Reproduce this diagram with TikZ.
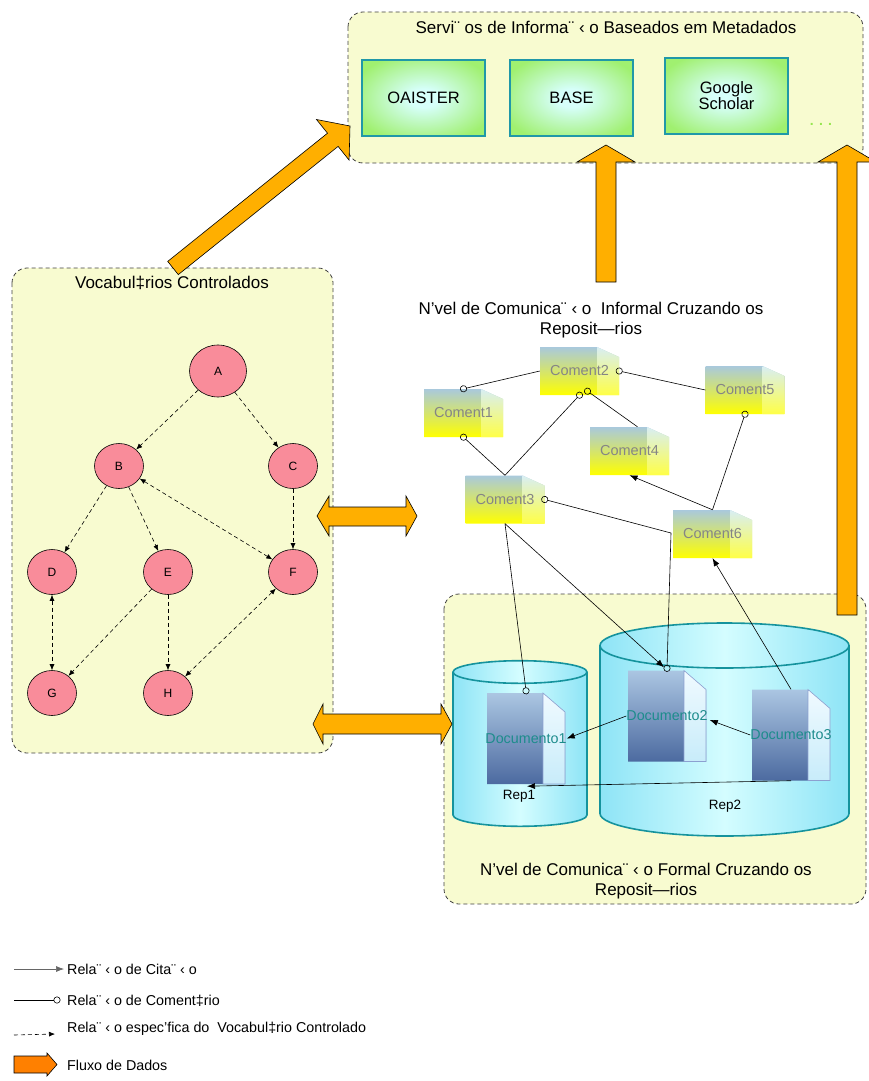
\documentclass[tikz,border=0pt]{standalone}
\usepackage{fontspec}
\setmainfont{Liberation Sans}
\usetikzlibrary{shapes.geometric,arrows.meta,calc}
\definecolor{boxyellow}{RGB}{248,251,208}
\definecolor{vpink}{RGB}{249,140,154}
\definecolor{svcIn}{RGB}{214,255,250}
\definecolor{svcOut}{RGB}{160,240,112}
\definecolor{svcLine}{RGB}{32,152,168}
\definecolor{cylEdge}{RGB}{142,228,246}
\definecolor{cylMid}{RGB}{212,253,255}
\definecolor{cylLine}{RGB}{21,147,157}
\definecolor{flowor}{RGB}{255,175,0}
\definecolor{legor}{RGB}{255,128,0}
\definecolor{doctxt}{RGB}{29,140,140}
\definecolor{cmttxt}{RGB}{133,133,133}
\definecolor{cmtTop}{RGB}{169,201,220}
\definecolor{cmtMid}{RGB}{230,234,90}
\definecolor{cmtBot}{RGB}{255,255,0}
\definecolor{cmtTopB}{RGB}{216,238,244}
\definecolor{cmtBotB}{RGB}{255,255,70}
\definecolor{docTop}{RGB}{171,198,226}
\definecolor{docMid}{RGB}{127,156,200}
\definecolor{docBot}{RGB}{76,106,160}
\definecolor{docTopB}{RGB}{240,250,255}
\definecolor{docBotB}{RGB}{200,236,250}
\definecolor{docLine}{RGB}{140,160,208}
\definecolor{dotgreen}{RGB}{150,230,80}
\pgfdeclareradialshading{svcshade}{\pgfpoint{0bp}{0bp}}{color(0bp)=(svcIn); color(6bp)=(svcIn); color(30bp)=(svcOut); color(100bp)=(svcOut)}
\tikzset{
  grp/.style={draw=black!75, dash pattern=on 4pt off 3pt, fill=boxyellow, rounded corners=15pt, line width=0.8pt},
  ttl/.style={font=\fontsize{17}{19.5}\selectfont, align=center, inner sep=1pt},
  svc/.style={rectangle, draw=svcLine, line width=1.3pt, shading=svcshade,
    minimum width=123pt, minimum height=76pt, inner sep=0pt, align=center, font=\fontsize{16.5}{18}\selectfont},
  vnode/.style={ellipse, draw=black, line width=0.6pt, fill=vpink, minimum width=49pt, minimum height=45pt,
    inner sep=0pt, font=\fontsize{12}{14}\selectfont},
  vrel/.style={dash pattern=on 4pt off 3pt, line width=0.6pt, -{Latex[length=6pt,width=5pt]}},
  vrelb/.style={dash pattern=on 4pt off 3pt, line width=0.6pt, {Latex[length=6pt,width=5pt]}-{Latex[length=6pt,width=5pt]}},
  cite/.style={line width=0.6pt, -{Latex[length=8pt,width=6pt]}},
  cmt/.style={line width=0.6pt, -{Circle[open,length=7pt,width=7pt]}, shorten >=-3.5pt},
  cmtb/.style={line width=0.6pt, {Circle[open,length=7pt,width=7pt]}-{Circle[open,length=7pt,width=7pt]}, shorten >=-3.5pt, shorten <=-3.5pt},
  flow/.style={draw=black, fill=flowor, line width=0.6pt, line join=miter},
  cnote/.style={rectangle, minimum width=79pt, minimum height=48pt, inner sep=0pt, text=cmttxt, font=\fontsize{14.5}{16}\selectfont},
  dnote/.style={rectangle, minimum width=78pt, minimum height=91pt, inner sep=0pt, text=doctxt, font=\fontsize{14.3}{16}\selectfont},
  lgd/.style={anchor=west, inner sep=0pt, font=\fontsize{14.3}{16}\selectfont},
  cyl/.style={left color=cylEdge, right color=cylEdge, middle color=cylMid},
  cylb/.style={draw=cylLine, line width=1.6pt},
}
\newcommand\mkcomment[4]{%
  \begin{scope}[shift={(#2,#3)}]
    \shade[top color=cmtTop, middle color=cmtMid, bottom color=cmtBot] (-39.5,-24) -- (17.5,-24) -- (39.5,-14) -- (39.5,24) -- (-39.5,24) -- cycle;
    \shade[top color=cmtTopB, bottom color=cmtBotB] (17.5,-24) -- (39.5,-14) -- (39.5,24) -- (17.5,24) -- cycle;
  \end{scope}
  \node[cnote] (#1) at (#2,#3) {#4};
}
\newcommand\mkdoc[4]{%
  \begin{scope}[shift={(#2,#3)}]
    \shade[top color=docTop, middle color=docMid, bottom color=docBot] (-39,-45.5) -- (17,-45.5) -- (39,-26.5) -- (39,45.5) -- (-39,45.5) -- cycle;
    \shade[top color=docTopB, bottom color=docBotB, draw=docLine, line width=0.6pt] (17,-45.5) -- (39,-26.5) -- (39,45.5) -- (17,45.5) -- cycle;
  \end{scope}
  \node[dnote] (#1) at (#2,#3) {#4};
}
\begin{document}
\begin{tikzpicture}[x=1pt,y=-1pt]
\useasboundingbox (0,0) rectangle (868,1081);

% group boxes
\draw[grp] (348,12) rectangle (863,163);
\draw[grp] (12,268) rectangle (333,753);
\draw[grp] (444,594) rectangle (866,904);

% titles
\node[ttl] (tsvc) at (606,27) {Servi¨ os de Informa¨ ‹ o Baseados em Metadados};
\node[ttl] (tvoc) at (172,283) {Vocabul‡rios Controlados};
\node[ttl] (tinf) at (591,320) {N’vel de Comunica¨ ‹ o \ Informal Cruzando os\\Reposit—rios};
\node[ttl] (tfor) at (646,881) {N’vel de Comunica¨ ‹ o Formal Cruzando os\\Reposit—rios};

% services
\node[svc] (oai) at (423.5,98) {OAISTER};
\node[svc] (base) at (571.5,98) {BASE};
\node[svc] (gs) at (726.5,96) {Google\\[-2pt]Scholar};
\node[text=dotgreen, font=\bfseries\fontsize{14}{16}\selectfont] (dots) at (821,124) {. . .};

% vocabulary graph
\node[vnode, minimum width=57pt, minimum height=52pt] (A) at (218,371) {A};
\node[vnode] (B) at (119,466) {B};
\node[vnode] (C) at (293,466) {C};
\node[vnode] (D) at (52,572) {D};
\node[vnode] (E) at (168,572) {E};
\node[vnode] (F) at (293,572) {F};
\node[vnode] (G) at (52,693) {G};
\node[vnode] (H) at (168,693) {H};
\draw[vrel] (A) -- (B);
\draw[vrel] (A) -- (C);
\draw[vrel] (B) -- (D);
\draw[vrel] (B) -- (E);
\draw[vrelb] (B) -- (F);
\draw[vrel] (C) -- (F);
\draw[vrelb] (D) -- (G);
\draw[vrel] (E) -- (G);
\draw[vrel] (E) -- (H);
\draw[vrelb] (F) -- (H);

% repositories
\shade[cyl] (453,672) -- (453,815) arc[start angle=180, end angle=360, x radius=67pt, y radius=11.3pt] -- (587,672) -- cycle;
\draw[cylb] (453,672) -- (453,815) arc[start angle=180, end angle=360, x radius=67pt, y radius=11.3pt] -- (587,672);
\shade[cyl] (520,672) ellipse[x radius=67pt, y radius=11.3pt];
\draw[cylb] (520,672) ellipse[x radius=67pt, y radius=11.3pt];
\shade[cyl] (600,645.5) -- (600,813.5) arc[start angle=180, end angle=360, x radius=124.5pt, y radius=22.5pt] -- (849,645.5) -- cycle;
\draw[cylb] (600,645.5) -- (600,813.5) arc[start angle=180, end angle=360, x radius=124.5pt, y radius=22.5pt] -- (849,645.5);
\shade[cyl] (724.5,645.5) ellipse[x radius=124.5pt, y radius=22.5pt];
\draw[cylb] (724.5,645.5) ellipse[x radius=124.5pt, y radius=22.5pt];
\node[font=\fontsize{13.5}{15}\selectfont] (rep1) at (519,796) {Rep1};
\node[font=\fontsize{13.5}{15}\selectfont] (rep2) at (725,806) {Rep2};

% documents
\mkdoc{d1}{526}{738.5}{Documento1}
\mkdoc{d2}{667}{716}{Documento2}
\mkdoc{d3}{791}{735}{Documento3}

% comments
\mkcomment{c1}{463.5}{413}{Coment1}
\mkcomment{c2}{579.5}{371}{Coment2}
\mkcomment{c5}{745}{390}{Coment5}
\mkcomment{c4}{629.5}{451}{Coment4}
\mkcomment{c3}{505}{499.5}{Coment3}
\mkcomment{c6}{712.5}{534}{Coment6}

% comment relations
\draw[cmt] (c2.west) -- (c1.north);
\draw[cmt] (c5.west) -- (c2.east);
\draw[cmt] ($(c4.north)+(8,0)$) -- ($(c2.south)+(8,-4)$);
\draw[cmt] (c3.north) -- (c2.south);
\draw[cmt] (c3.north) -- (c1.south);
\draw[cmt] (c6.north) -- (c5.south);
\draw[cite] (c6.north) -- (c4.south);
\draw[cmt] (c3.south) -- ($(d1.north)+(0,-2)$);
\draw[cite] (c3.south) -- ($(d2.north)+(-3,-3)$);
\coordinate (bend) at (671,533);
\draw[cmtb] (c3.east) -- (bend) -- ($(d2.north)+(0,-2)$);
\draw[cite] (d3.north) -- (c6.south);
\draw[cite] (d2.west) -- (d1.east);
\draw[cite] (d3.west) -- ($(d2.east)+(2,4)$);
\draw[cite] (d3.south) -- ($(d1.south)+(1,2)$);

% data flow arrows
\draw[flow] (167.7,261.4) -- (327.5,133.2) -- (316.5,119.5) -- (350,126) -- (349.1,160.1) -- (338.1,146.4) -- (178.3,274.6) -- cycle;
\draw[flow] (596,282) -- (596,162) -- (577,162) -- (606,145) -- (635,162) -- (616,162) -- (616,282) -- cycle;
\draw[flow] (837,615) -- (837,162) -- (818,162) -- (847,145) -- (876,162) -- (857,162) -- (857,615) -- cycle;
\draw[flow] (317,516) -- (329,496) -- (329,507) -- (406,507) -- (406,496) -- (417,516) -- (406,536) -- (406,526) -- (329,526) -- (329,536) -- cycle;
\draw[flow] (313,724) -- (323,704) -- (323,714) -- (441,714) -- (441,704) -- (452,724) -- (441,744) -- (441,734) -- (323,734) -- (323,744) -- cycle;

% legend
\coordinate (l1a) at (14,969);
\coordinate (l2a) at (14,1000);
\coordinate (l3a) at (14,1035);
\coordinate (l3b) at (55,1034);
\node[lgd] (t1) at (67,969) {Rela¨ ‹ o de Cita¨ ‹ o};
\node[lgd] (t2) at (67,1001) {Rela¨ ‹ o de Coment‡rio};
\node[lgd] (t3) at (67,1029) {Rela¨ ‹ o espec’fica do \ Vocabul‡rio Controlado};
\node[lgd] (t4) at (67,1065) {Fluxo de Dados};
\draw[cite, draw=black!60] (l1a) -- ($(t1.west)+(-3,0)$);
\draw[cmt] (l2a) -- ($(t2.west)+(-10,-1)$);
\draw[vrel] (l3a) -- (l3b);
\draw[flow, fill=legor] (14,1056) -- (47,1056) -- (47,1053) -- (57,1064.5) -- (47,1076) -- (47,1073) -- (14,1073) -- cycle;
\end{tikzpicture}
\end{document}
